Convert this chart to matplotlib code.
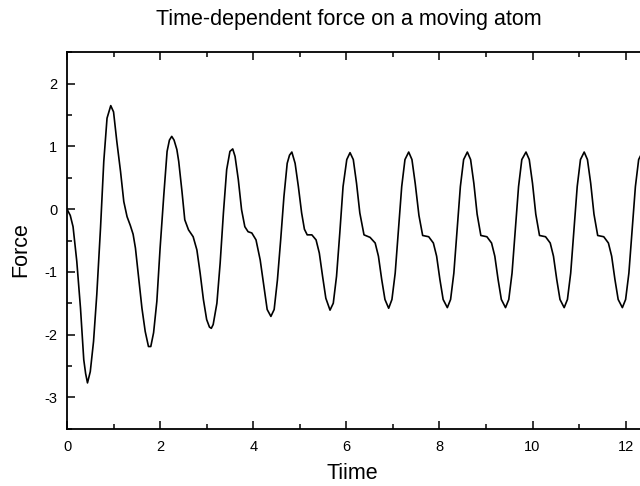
"""
Time-dependent force on a moving atom
"""

import matplotlib
matplotlib.use('Agg')
import matplotlib.pyplot as plt
from matplotlib.ticker import MultipleLocator

plt.rcParams['font.family'] = ['Liberation Sans', 'DejaVu Sans']
plt.rcParams['axes.unicode_minus'] = False

# Time values
time = [0.00, 0.07, 0.13, 0.21, 0.29, 0.36, 0.40, 0.44, 0.50, 0.57, 0.64, 0.72, 0.79, 0.86, 0.94,
        1.00, 1.07, 1.15, 1.22, 1.29, 1.36, 1.42, 1.47, 1.54, 1.61, 1.68, 1.75, 1.80, 1.86, 1.93,
        2.00, 2.08, 2.15, 2.20, 2.25, 2.30, 2.36, 2.40, 2.47, 2.53, 2.61, 2.71, 2.79, 2.86, 2.93,
        3.00, 3.06, 3.10, 3.14, 3.22, 3.29, 3.36, 3.43, 3.50, 3.56, 3.61, 3.68, 3.75, 3.82, 3.89,
        3.97, 4.06, 4.15, 4.22, 4.30, 4.38, 4.45, 4.52, 4.59, 4.66, 4.73, 4.78, 4.83, 4.90, 4.97,
        5.04, 5.10, 5.16, 5.26, 5.35, 5.42, 5.49, 5.56, 5.65, 5.72, 5.79, 5.86, 5.93, 6.01, 6.08,
        6.15, 6.22, 6.29, 6.38, 6.51, 6.62, 6.69, 6.76, 6.83, 6.91, 6.98, 7.05, 7.12, 7.19, 7.26,
        7.34, 7.41, 7.48, 7.56, 7.64, 7.77, 7.87, 7.94, 8.01, 8.08, 8.17, 8.24, 8.31, 8.38, 8.45,
        8.52, 8.60, 8.67, 8.74, 8.81, 8.89, 9.02, 9.12, 9.19, 9.26, 9.33, 9.42, 9.49, 9.56, 9.63,
        9.70, 9.77, 9.86, 9.93, 10.00, 10.07, 10.15, 10.28, 10.38, 10.45, 10.52, 10.59, 10.68, 10.75,
        10.82, 10.89, 10.96, 11.03, 11.11, 11.18, 11.25, 11.32, 11.40, 11.53, 11.63, 11.70, 11.77,
        11.84, 11.93, 12.00, 12.07, 12.14, 12.21, 12.28, 12.36, 12.43, 12.50]

# Force values
force = [0.00, -0.10, -0.28, -0.83, -1.58, -2.40, -2.62, -2.77, -2.59, -2.11, -1.36, -0.30, 0.76, 1.45, 1.65,
         1.55, 1.08, 0.60, 0.12, -0.12, -0.26, -0.40, -0.62, -1.10, -1.58, -1.95, -2.19, -2.19, -1.97, -1.47,
         -0.62, 0.23, 0.92, 1.10, 1.16, 1.10, 0.95, 0.76, 0.28, -0.17, -0.33, -0.44, -0.65, -1.02, -1.44,
         -1.76, -1.88, -1.90, -1.84, -1.50, -0.86, -0.06, 0.63, 0.92, 0.96, 0.84, 0.47, -0.01, -0.28, -0.36,
         -0.38, -0.49, -0.81, -1.18, -1.60, -1.71, -1.60, -1.13, -0.49, 0.20, 0.73, 0.86, 0.91, 0.73, 0.36,
         -0.06, -0.32, -0.41, -0.41, -0.49, -0.70, -1.07, -1.42, -1.61, -1.50, -1.07, -0.38, 0.36, 0.79, 0.90,
         0.79, 0.41, -0.06, -0.41, -0.45, -0.54, -0.75, -1.12, -1.44, -1.58, -1.44, -1.02, -0.33, 0.36, 0.79,
         0.91, 0.79, 0.41, -0.10, -0.42, -0.44, -0.54, -0.75, -1.12, -1.44, -1.57, -1.44, -1.02, -0.33, 0.36,
         0.79, 0.91, 0.79, 0.41, -0.08, -0.42, -0.44, -0.54, -0.75, -1.12, -1.44, -1.57, -1.44, -1.02, -0.33,
         0.36, 0.79, 0.91, 0.79, 0.41, -0.08, -0.42, -0.44, -0.54, -0.75, -1.12, -1.44, -1.57, -1.44,
         -1.02, -0.33, 0.36, 0.79, 0.91, 0.79, 0.41, -0.08, -0.42, -0.44, -0.54, -0.75, -1.12,
         -1.44, -1.57, -1.44, -1.02, -0.33, 0.36, 0.79, 0.91, 0.79, 0.41]

fig = plt.figure(figsize=(6.4, 4.86), dpi=100)
ax = fig.add_axes([67 / 640, 57.3 / 486, 581.9 / 640, 376.4 / 486])

ax.plot(time, force, color='black', linewidth=1.2)

ax.set_xlim(0, 12.5)
ax.set_ylim(-3.5, 2.5)
ax.xaxis.set_major_locator(MultipleLocator(2))
ax.xaxis.set_minor_locator(MultipleLocator(1))
ax.yaxis.set_major_locator(MultipleLocator(1))
ax.yaxis.set_minor_locator(MultipleLocator(0.5))

ax.tick_params(which='both', direction='in', top=True, right=True, width=1.1, labelsize=10.5)
ax.tick_params(which='major', length=6)
ax.tick_params(which='minor', length=3.5)
ax.tick_params(axis='x', pad=8)
ax.tick_params(axis='y', pad=7)
for spine in ax.spines.values():
    spine.set_linewidth(1.3)

# Підписи
fig.text(349 / 640, 1 - 25 / 486, 'Time-dependent force on a moving atom', fontsize=15.5,
         ha='center', va='baseline')
fig.text(352 / 640, 1 - 473 / 486, 'Tiime', fontsize=15.5, ha='center', va='center')
fig.text(21 / 640, 1 - 250 / 486, 'Force', fontsize=15.5, ha='center', va='center', rotation=90)

fig.savefig('out.png', dpi=100)
